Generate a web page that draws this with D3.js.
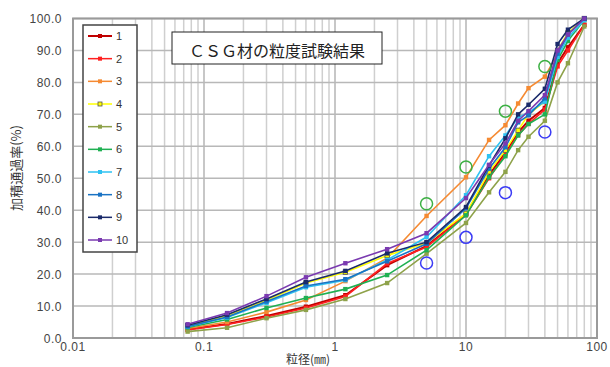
<!DOCTYPE html>
<html>
<head>
<meta charset="utf-8">
<script src="https://cdn.jsdelivr.net/npm/d3@7.9.0/dist/d3.min.js"></script>
<style>
  html, body { margin: 0; padding: 0; background: #fff; }
  svg { display: block; }
</style>
</head>
<body>
<svg id="chart" width="610" height="367"></svg>
<script>
// sieve sizes (mm) and passing percentage per sample
const sieves = [0.075, 0.15, 0.3, 0.6, 1.2, 2.5, 5, 10, 15, 20, 25, 30, 40, 50, 60, 80];
const sample1  = [2.7, 4.4, 6.9, 9.8, 13.4, 22.8, 28.8, 38.7, 51.0, 58.1, 64.4, 68.0, 72.0, 86.0, 91.0, 98.0];
const sample2  = [2.5, 4.2, 6.6, 9.4, 13.0, 23.3, 28.5, 38.5, 50.0, 57.5, 63.5, 67.0, 71.5, 85.0, 90.0, 98.0];
const sample3  = [3.0, 5.0, 8.1, 11.9, 17.8, 25.0, 38.2, 50.3, 62.0, 66.6, 73.4, 78.2, 81.8, 89.0, 95.0, 100.0];
const sample4  = [3.8, 7.0, 11.8, 17.2, 20.6, 25.8, 29.7, 39.0, 52.0, 58.8, 65.0, 70.0, 74.0, 90.0, 95.5, 100.0];
const sample5  = [2.0, 3.2, 6.2, 8.8, 12.2, 17.2, 26.4, 36.0, 45.6, 52.0, 58.8, 63.0, 68.0, 80.0, 86.0, 97.5];
const sample6  = [3.3, 5.8, 9.4, 12.5, 15.3, 19.7, 27.5, 38.4, 50.3, 56.9, 63.4, 67.0, 70.0, 87.0, 93.0, 99.5];
const sample7  = [3.5, 6.4, 11.0, 15.9, 18.1, 24.4, 31.6, 44.7, 56.9, 63.4, 69.0, 70.6, 74.0, 88.0, 94.0, 99.5];
const sample8  = [3.6, 6.6, 11.4, 16.3, 18.4, 24.0, 29.5, 40.6, 53.0, 59.7, 67.5, 69.7, 75.0, 89.0, 95.0, 100.0];
const sample9  = [4.0, 7.3, 12.2, 17.5, 21.0, 26.5, 30.0, 41.0, 54.0, 62.5, 70.0, 73.0, 78.0, 92.0, 96.5, 100.0];
const sample10 = [4.3, 7.8, 13.1, 19.0, 23.4, 27.8, 32.8, 43.8, 54.2, 60.9, 68.0, 71.0, 76.0, 90.0, 95.0, 100.0];

const seriesNames = ["1", "2", "3", "4", "5", "6", "7", "8", "9", "10"];
const seriesValues = [sample1, sample2, sample3, sample4, sample5, sample6, sample7, sample8, sample9, sample10];
const seriesColors = ["#c00000", "#ff2020", "#f58a32", "#ffff00", "#8ea24a", "#1fb052", "#2ec2f2", "#1a73c4", "#1a2a6a", "#7a3ab0"];

// open circle marks (grading band)
const bandSizes = [5, 10, 20, 40];
const upperBand = [42.0, 53.5, 71.0, 85.0];
const lowerBand = [23.5, 31.5, 45.5, 64.5];

const yTicks = d3.range(0, 101, 10);
const xTickLabels = [0.01, 0.1, 1, 10, 100];

const svg = d3.select("#chart");
const plotLeft = 73, plotRight = 597, plotTop = 18.5, plotBottom = 338;

const x = d3.scaleLog().domain([0.01, 100]).range([plotLeft, plotRight]);
const y = d3.scaleLinear().domain([0, 100]).range([plotBottom, plotTop]);

// grid
const minor = [];
[0.01, 0.1, 1, 10].forEach(d => { for (let k = 1; k <= 9; k++) minor.push(d * k); });
minor.push(100);

svg.append("g").selectAll("line")
  .data(minor)
  .join("line")
  .attr("x1", d => x(d)).attr("x2", d => x(d))
  .attr("y1", plotTop).attr("y2", plotBottom)
  .attr("stroke", d => xTickLabels.includes(d) ? "#b4b4b4" : "#cfcfcf")
  .attr("stroke-width", 1.5);

svg.append("g").selectAll("line")
  .data(yTicks)
  .join("line")
  .attr("x1", plotLeft).attr("x2", plotRight)
  .attr("y1", d => y(d)).attr("y2", d => y(d))
  .attr("stroke", "#b8b8b8")
  .attr("stroke-width", 1.5);

// plot border
svg.append("rect")
  .attr("x", plotLeft).attr("y", plotTop)
  .attr("width", plotRight - plotLeft).attr("height", plotBottom - plotTop)
  .attr("fill", "none")
  .attr("stroke", "#9a9a9a")
  .attr("stroke-width", 2);

// axes labels
svg.append("g").selectAll("text")
  .data(yTicks)
  .join("text")
  .attr("x", 62)
  .attr("y", d => y(d) + 4.5)
  .attr("text-anchor", "end")
  .attr("font-family", "Liberation Sans, Arial, sans-serif")
  .attr("font-size", 12)
  .attr("letter-spacing", 0.5)
  .attr("fill", "#444")
  .text(d => d.toFixed(1));

svg.append("g").selectAll("text")
  .data(xTickLabels)
  .join("text")
  .attr("x", d => x(d))
  .attr("y", 351)
  .attr("text-anchor", "middle")
  .attr("font-family", "Liberation Sans, Arial, sans-serif")
  .attr("font-size", 12)
  .attr("letter-spacing", 0.5)
  .attr("fill", "#444")
  .text(d => String(d));

svg.append("text")
  .attr("x", 308).attr("y", 364)
  .attr("text-anchor", "middle")
  .attr("font-family", "Noto Sans CJK JP, sans-serif")
  .attr("font-size", 12)
  .attr("fill", "#333")
  .text("粒径(㎜)");

svg.append("text")
  .attr("transform", "translate(21,168) rotate(-90)")
  .attr("text-anchor", "middle")
  .attr("font-family", "Noto Sans CJK JP, sans-serif")
  .attr("font-size", 13)
  .attr("fill", "#333")
  .text("加積通過率(%)");

// series lines
const line = d3.line()
  .x(d => x(d[0]))
  .y(d => y(d[1]));

seriesValues.forEach((vals, i) => {
  const pts = sieves.map((s, j) => [s, vals[j]]);
  const g = svg.append("g");
  g.append("path")
    .attr("d", line(pts))
    .attr("fill", "none")
    .attr("stroke", seriesColors[i])
    .attr("stroke-width", i === 0 ? 2 : 1.6);
  g.selectAll("rect")
    .data(pts)
    .join("rect")
    .attr("x", d => x(d[0]) - 2.2)
    .attr("y", d => y(d[1]) - 2.2)
    .attr("width", 4.4).attr("height", 4.4)
    .attr("fill", seriesColors[i])
    .attr("stroke", i === 3 ? "#555" : "none")
    .attr("stroke-width", 0.8);
});

// open circles
svg.append("g").selectAll("circle")
  .data(bandSizes.map((s, j) => [s, upperBand[j]]))
  .join("circle")
  .attr("cx", d => x(d[0])).attr("cy", d => y(d[1]))
  .attr("r", 6)
  .attr("fill", "none")
  .attr("stroke", "#3cb043")
  .attr("stroke-width", 1.5);

svg.append("g").selectAll("circle")
  .data(bandSizes.map((s, j) => [s, lowerBand[j]]))
  .join("circle")
  .attr("cx", d => x(d[0])).attr("cy", d => y(d[1]))
  .attr("r", 6)
  .attr("fill", "none")
  .attr("stroke", "#3b3bf5")
  .attr("stroke-width", 1.5);

// legend
const legend = svg.append("g");
legend.append("rect")
  .attr("x", 83).attr("y", 25)
  .attr("width", 54).attr("height", 227)
  .attr("fill", "#fff")
  .attr("stroke", "#444")
  .attr("stroke-width", 1.5);

const legendRow = d3.scalePoint().domain(seriesNames).range([36, 240]);
seriesNames.forEach((n, i) => {
  const ly = legendRow(n);
  legend.append("line")
    .attr("x1", 88).attr("x2", 112)
    .attr("y1", ly).attr("y2", ly)
    .attr("stroke", seriesColors[i])
    .attr("stroke-width", i === 0 ? 2 : 1.5);
  legend.append("rect")
    .attr("x", 98).attr("y", ly - 2)
    .attr("width", 4).attr("height", 4)
    .attr("fill", seriesColors[i])
    .attr("stroke", i === 3 ? "#555" : "none")
    .attr("stroke-width", 0.8);
  legend.append("text")
    .attr("x", 116).attr("y", ly + 4)
    .attr("font-family", "Liberation Sans, Arial, sans-serif")
    .attr("font-size", 11)
    .attr("fill", "#333")
    .text(n);
});

// title box
svg.append("rect")
  .attr("x", 172).attr("y", 32)
  .attr("width", 210).attr("height", 32)
  .attr("fill", "#fff")
  .attr("stroke", "#222")
  .attr("stroke-width", 1);

svg.append("text")
  .attr("x", 277).attr("y", 57)
  .attr("text-anchor", "middle")
  .attr("font-family", "Noto Sans CJK JP, sans-serif")
  .attr("font-size", 16)
  .attr("fill", "#222")
  .text("ＣＳＧ材の粒度試験結果");
</script>
</body>
</html>
